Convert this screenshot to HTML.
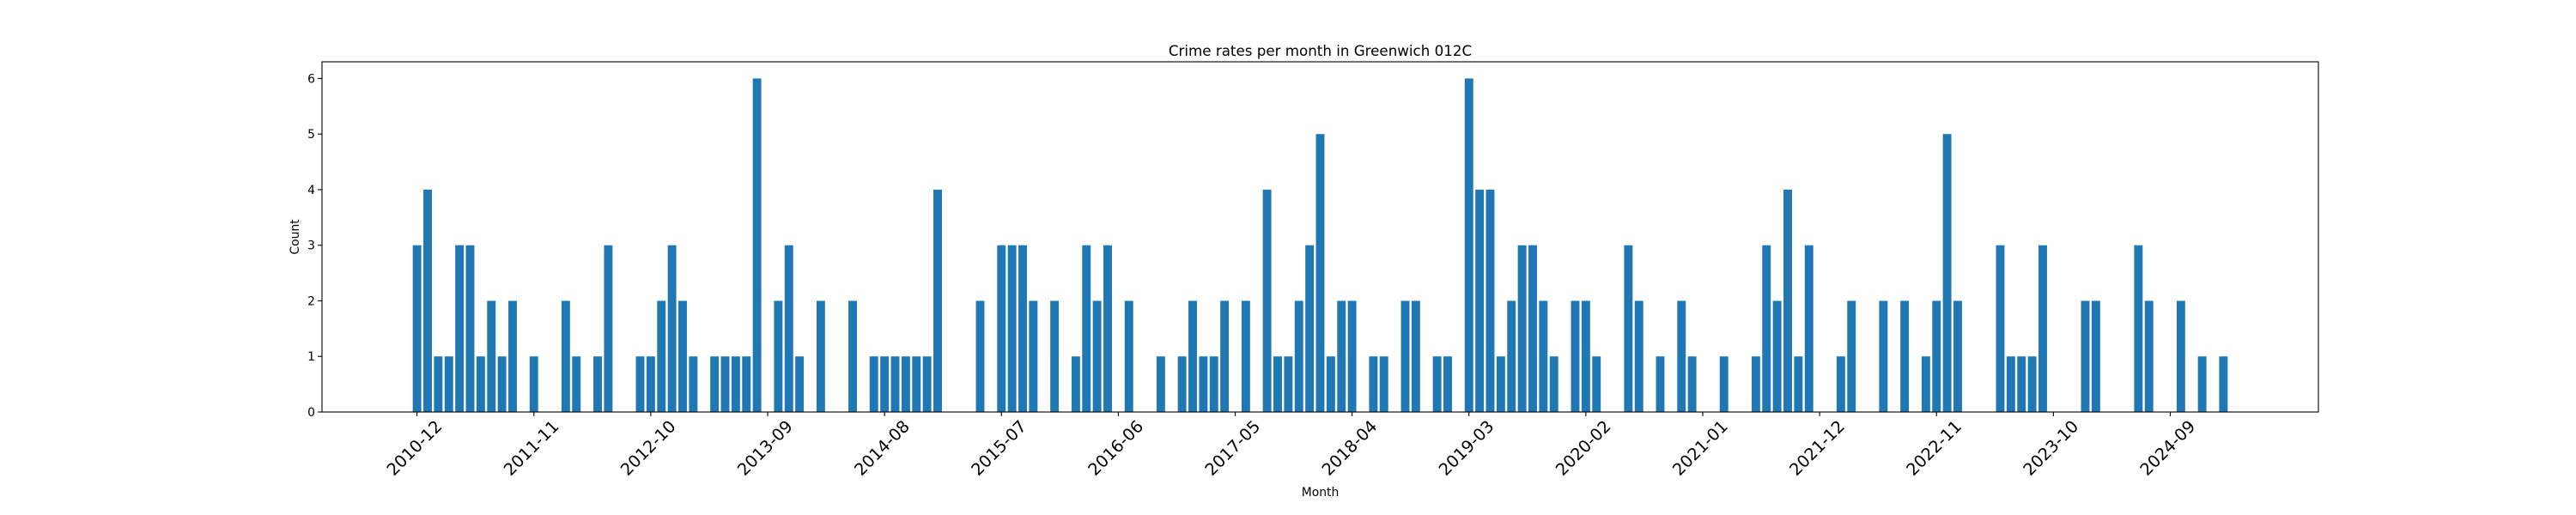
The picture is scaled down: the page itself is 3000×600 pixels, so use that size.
<!DOCTYPE html>
<html><head><meta charset="utf-8"><style>
html,body{margin:0;padding:0;background:#fff;}
svg{display:block;font-family:"DejaVu Sans","Liberation Sans",sans-serif;}
</style></head><body>
<svg id="chart" width="3000" height="600" viewBox="0 0 3000 600" xmlns="http://www.w3.org/2000/svg">
<rect width="3000" height="600" fill="#fff"/>
<text x="1537.5" y="65" font-size="16.7" text-anchor="middle" fill="#000">Crime rates per month in Greenwich 012C</text>
<text x="1537.5" y="578" font-size="13.9" text-anchor="middle" fill="#000">Month</text>
<text x="0" y="0" font-size="13.9" text-anchor="middle" fill="#000" transform="translate(348,276) rotate(-90)">Count</text>
<g id="bars"></g>
<g id="axes"></g>
</svg>
<script>
const startYear = 2010;
const startMonth = 12;
const counts = [
3,4,1,1,3,3,1,2,1,2, 0,1,0,0,2,1,0,1,3,0,
0,1,1,2,3,2,1,0,1,1, 1,1,6,0,2,3,1,0,2,0,
0,2,0,1,1,1,1,1,1,4, 0,0,0,2,0,3,3,3,2,0,
2,0,1,3,2,3,0,2,0,0, 1,0,1,2,1,1,2,0,2,0,
4,1,1,2,3,5,1,2,2,0, 1,1,0,2,2,0,1,1,0,6,
4,4,1,2,3,3,2,1,0,2, 2,1,0,0,3,2,0,1,0,2,
1,0,0,1,0,0,1,3,2,4, 1,3,0,0,1,2,0,0,2,0,
2,0,1,2,5,2,0,0,0,3, 1,1,1,3,0,0,0,2,2,0,
0,0,3,2,0,0,2,0,1,0, 1
];
const yTicks = [0,1,2,3,4,5,6];
const xTickEvery = 11;

const NS = "http://www.w3.org/2000/svg";
const svg = document.getElementById('chart');
const barsG = document.getElementById('bars');
const axesG = document.getElementById('axes');
const L = 375, R = 2700, T = 72, B = 480;
const n = counts.length;
const span = (n - 1) + 0.8;
const xmin = -0.4 - 0.05 * span, xmax = (n - 1) + 0.4 + 0.05 * span;
const ymax = Math.max(...counts) * 1.05;
function xs(v){ return L + (v - xmin) / (xmax - xmin) * (R - L); }
function ys(v){ return B - v / ymax * (B - T); }
function label(i){
  const m0 = startMonth - 1 + i;
  const y = startYear + Math.floor(m0 / 12);
  const m = (m0 % 12) + 1;
  return y + '-' + String(m).padStart(2, '0');
}
function mk(tag, attrs){ const e = document.createElementNS(NS, tag); for (const k in attrs) e.setAttribute(k, attrs[k]); return e; }

counts.forEach((c, i) => {
  const x0 = xs(i - 0.4), x1 = xs(i + 0.4);
  const r = mk('rect', {x: x0, y: ys(c), width: x1 - x0, height: ys(0) - ys(c), fill: '#1f77b4'});
  
  
  barsG.appendChild(r);
});

const frame = mk('rect', {x: L, y: T, width: R - L, height: B - T, fill: 'none', stroke: '#000', 'stroke-width': 1.1});


axesG.appendChild(frame);

yTicks.forEach(v => {
  const y = ys(v);
  const t = mk('line', {x1: L - 4.9, x2: L, y1: y, y2: y, stroke: '#000', 'stroke-width': 1.1});
  
  
  axesG.appendChild(t);
  const tx = mk('text', {x: L - 8, y: y + 5, 'font-size': 13.9, 'text-anchor': 'end', fill: '#000'});
  tx.textContent = String(v);
  
  
  axesG.appendChild(tx);
});

for (let i = 0; i < n; i += xTickEvery) {
  const x = xs(i);
  const t = mk('line', {x1: x, x2: x, y1: B, y2: B + 4.9, stroke: '#000', 'stroke-width': 1.1});
  
  
  axesG.appendChild(t);
  const cy = 522;
  const tx = mk('text', {x: 0, y: 0, 'font-size': 19.4, 'text-anchor': 'middle', 'dominant-baseline': 'central', fill: '#000', transform: 'translate(' + (x - 3) + ',' + cy + ') rotate(-45)'});
  tx.textContent = label(i);
  
  
  axesG.appendChild(tx);
}
</script>
</body></html>
